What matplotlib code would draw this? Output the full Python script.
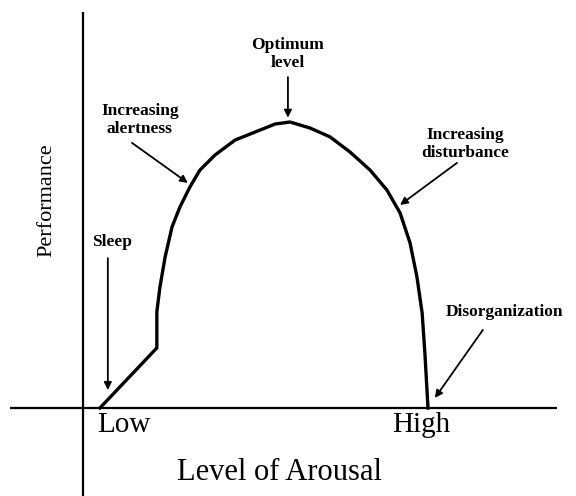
import matplotlib
matplotlib.use("Agg")
import matplotlib.pyplot as plt

# Data (arousal 0..100 where High = 100, performance 0..100 where optimum = 100)
arousal = [4.9, 21.4, 21.4, 22.3, 23.8, 25.8, 28.1, 31.0, 33.9, 38.3, 44.1, 49.9,
           55.7, 60.0, 65.8, 71.6, 77.4, 83.2, 88.1, 91.9, 94.8, 96.8, 98.3, 99.1, 100.0]
performance = [0.0, 21.0, 33.6, 42.3, 52.8, 63.3, 70.3, 77.3, 83.2, 88.5, 93.7, 96.5,
               99.3, 100.0, 97.9, 94.8, 89.5, 83.2, 76.2, 68.2, 57.7, 45.8, 33.2, 19.2, 0.0]
tick_labels = ["Low", "High"]
tick_positions = [11.9, 98.0]
x_label = "Level of Arousal"
y_label = "Performance"

# annotations: text, text position, arrow start, arrow end
annotations = [
    ("Optimum\nlevel", (59.4, 123.8), (59.4, 115.7), (59.4, 101.5)),
    ("Increasing\nalertness", (16.5, 100.7), (14.2, 92.7), (30.4, 78.7)),
    ("Increasing\ndisturbance", (110.7, 92.3), (108.4, 85.7), (91.9, 71.0)),
    ("Sleep", (8.4, 58.0), (7.2, 52.4), (7.2, 6.3)),
    ("Disorganization", (122.3, 33.6), (115.9, 27.3), (102.0, 3.5)),
]

fig = plt.figure(figsize=(5.76, 4.96), dpi=100)
ax = fig.add_axes([0, 0, 1, 1])
ax.set_xlim(-24.06, 142.9)
ax.set_ylim(-30.77, 142.66)
ax.axis("off")

serif = ["Liberation Serif", "DejaVu Serif"]

# axes lines
ax.plot([-21.2, 137.4], [0, 0], color="black", lw=1.6, solid_capstyle="butt")
ax.plot([0, 0], [138.5, -30.8], color="black", lw=1.6, solid_capstyle="butt")

# curve
ax.plot(arousal, performance, color="black", lw=2.4, solid_joinstyle="round")

for txt, tpos, a0, a1 in annotations:
    ax.text(tpos[0], tpos[1], txt, ha="center", va="center", family=serif,
            fontsize=12.5, fontweight="bold", linespacing=1.1)
    ax.annotate("", xy=a1, xytext=a0,
                arrowprops=dict(arrowstyle="-|>", color="black", lw=1.3,
                                mutation_scale=11, shrinkA=0, shrinkB=0))

for lab, pos in zip(tick_labels, tick_positions):
    ax.text(pos, -5.9, lab, ha="center", va="center", family=serif, fontsize=21)

ax.text(57.1, -22.7, x_label, ha="center", va="center", family=serif, fontsize=22)
ax.text(-10.4, 72.7, y_label, ha="center", va="center", family=serif, fontsize=16,
        rotation=90)

fig.savefig("out.png", dpi=100)
